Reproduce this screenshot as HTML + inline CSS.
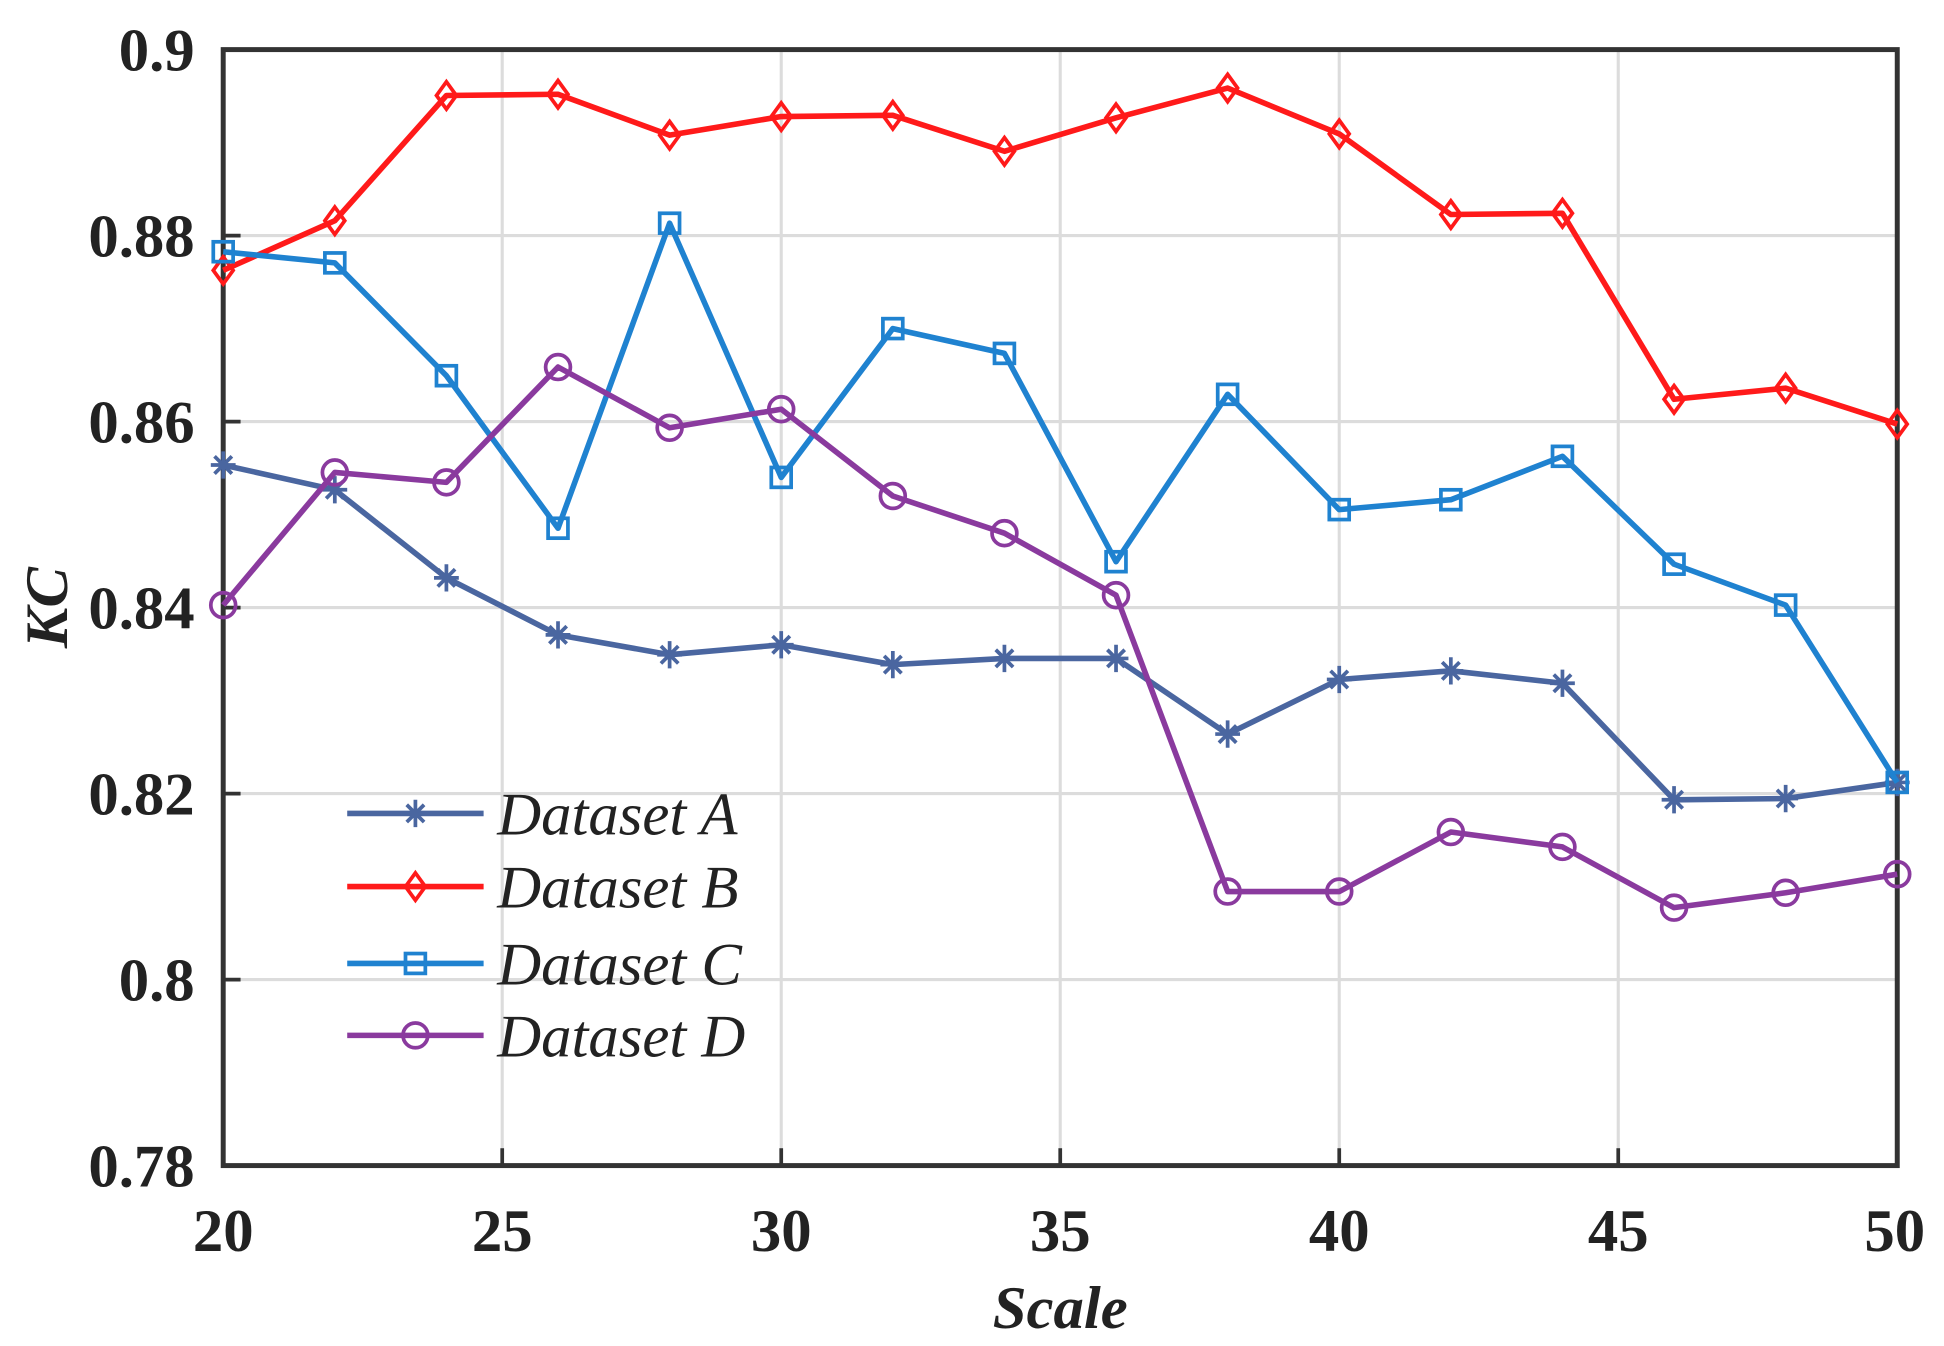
<!DOCTYPE html>
<html><head><meta charset="utf-8"><style>html,body{margin:0;padding:0;background:#fff}svg{display:block}</style></head>
<body>
<svg width="1944" height="1346" viewBox="0 0 1567.7 1085.5" preserveAspectRatio="none" xmlns="http://www.w3.org/2000/svg">
<g stroke="#dcdcdc" stroke-width="2.5">
<line x1="405" y1="40" x2="405" y2="940"/><line x1="630" y1="40" x2="630" y2="940"/><line x1="855" y1="40" x2="855" y2="940"/><line x1="1080" y1="40" x2="1080" y2="940"/><line x1="1305" y1="40" x2="1305" y2="940"/>
<line x1="180" y1="190" x2="1530" y2="190"/><line x1="180" y1="340" x2="1530" y2="340"/><line x1="180" y1="490" x2="1530" y2="490"/><line x1="180" y1="640" x2="1530" y2="640"/><line x1="180" y1="790" x2="1530" y2="790"/>
</g>
<g stroke="#333" stroke-width="3">
<line x1="405" y1="940" x2="405" y2="926"/><line x1="630" y1="940" x2="630" y2="926"/><line x1="855" y1="940" x2="855" y2="926"/><line x1="1080" y1="940" x2="1080" y2="926"/><line x1="1305" y1="940" x2="1305" y2="926"/>
<line x1="180" y1="190" x2="194" y2="190"/><line x1="180" y1="340" x2="194" y2="340"/><line x1="180" y1="490" x2="194" y2="490"/><line x1="180" y1="640" x2="194" y2="640"/><line x1="180" y1="790" x2="194" y2="790"/>
</g>
<rect x="180" y="40" width="1350" height="900" fill="none" stroke="#333" stroke-width="4"/>
<g font-family="Liberation Serif, serif" font-weight="bold" font-size="49" fill="#222" text-anchor="end">
<text x="157" y="57">0.9</text><text x="157" y="207">0.88</text><text x="157" y="357">0.86</text><text x="157" y="507">0.84</text><text x="157" y="657">0.82</text><text x="157" y="807">0.8</text><text x="157" y="957">0.78</text>
</g>
<g font-family="Liberation Serif, serif" font-weight="bold" font-size="49" fill="#222" text-anchor="middle">
<text x="180" y="1009">20</text><text x="405" y="1009">25</text><text x="630" y="1009">30</text><text x="855" y="1009">35</text><text x="1080" y="1009">40</text><text x="1305" y="1009">45</text><text x="1528" y="1009">50</text>
<text x="855" y="1071" font-style="italic">Scale</text>
<text transform="translate(54,490) rotate(-90)" font-style="italic">KC</text>
</g>
<script>
(function(){
var xs=[];for(var i=0;i<16;i++)xs.push(180+i*90);
var S={A:[375,395,466,512,528,520,536,531,531,592,548,541,551,645,644,631],
B:[218,178,77,76,109,94,93,122,95,71,108,173,172,322,313,342],
C:[203,212,303,426,180,385,265,285,453,318,411,403,368,455,488,631],
D:[488,381,389,296,345,330,400,430,480,719,719,671,683,732,720,705]};
var col={A:"#4a66a0",B:"#ff1a1a",C:"#1f82d0",D:"#8a3a9e"};
var svg=document.querySelector("svg");var ns="http://www.w3.org/2000/svg";
function el(t,a){var e=document.createElementNS(ns,t);for(var k in a)e.setAttribute(k,a[k]);svg.appendChild(e);return e;}
function marker(k,x,y){var c=col[k];
if(k=="A"){el("path",{d:"M"+(x-10)+","+y+"h20M"+x+","+(y-11)+"v22M"+(x-7)+","+(y-7)+"l14,14M"+(x+7)+","+(y-7)+"l-14,14",stroke:c,"stroke-width":3,fill:"none"});}
if(k=="B"){el("path",{d:"M"+x+","+(y-11)+"L"+(x+8)+","+y+"L"+x+","+(y+11)+"L"+(x-8)+","+y+"Z",stroke:c,"stroke-width":3,fill:"none"});}
if(k=="C"){el("rect",{x:x-8,y:y-8,width:16,height:16,stroke:c,"stroke-width":3,fill:"none"});}
if(k=="D"){el("circle",{cx:x,cy:y,r:10,stroke:c,"stroke-width":3,fill:"none"});}}
for(var k in S){var pts=S[k].map(function(y,i){return xs[i]+","+y}).join(" ");
el("polyline",{points:pts,stroke:col[k],"stroke-width":4.5,fill:"none","stroke-linejoin":"round"});
S[k].forEach(function(y,i){marker(k,xs[i],y)});}
var ly={A:656,B:715,C:777,D:835};
for(var k in ly){el("line",{x1:280,y1:ly[k],x2:390,y2:ly[k],stroke:col[k],"stroke-width":4.5});marker(k,335,ly[k]);}
})();
</script>
<g font-family="Liberation Serif, serif" font-style="italic" font-size="49" fill="#222">
<text x="401" y="673">Dataset A</text><text x="401" y="732">Dataset B</text><text x="401" y="794">Dataset C</text><text x="401" y="852">Dataset D</text>
</g>
</svg>
</body></html>
